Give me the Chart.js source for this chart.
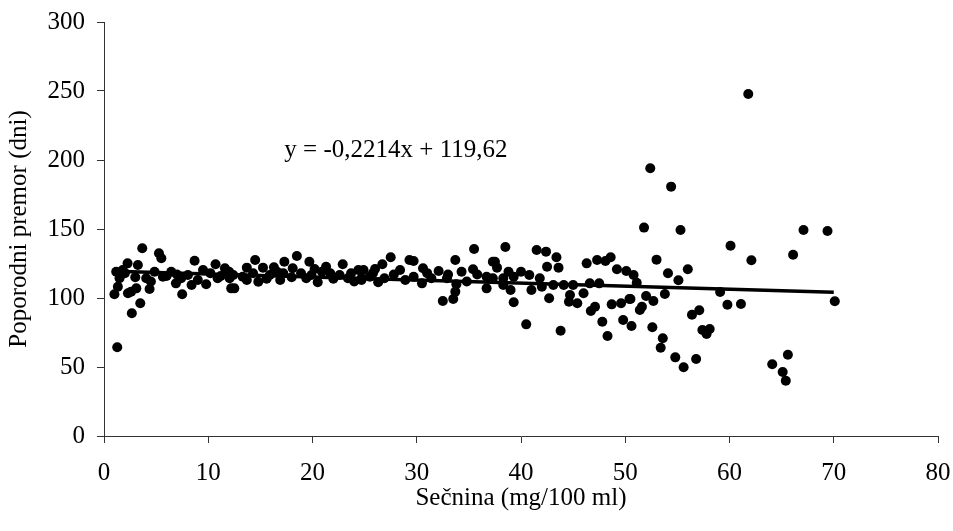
<!DOCTYPE html>
<html>
<head>
<meta charset="utf-8">
<title>Sečnina in poporodni premor</title>
<script src="https://cdn.jsdelivr.net/npm/chart.js@4/dist/chart.umd.min.js"></script>
<style>
  html, body { margin: 0; padding: 0; background: #fff; }
  #chartBox { width: 953px; height: 531px; }
</style>
</head>
<body>
<div id="chartBox"><canvas id="scatterChart" width="953" height="531"></canvas></div>
<script>
// urea (x) and calving interval (y)
const xValues = [
  1.0, 1.17, 1.27, 1.33, 1.49, 1.8, 2.0, 2.26, 2.3, 2.6, 2.67, 3.0, 3.1, 3.25, 3.48, 3.67, 4.05, 4.37, 4.5, 4.85,
  5.27, 5.5, 5.65, 6.0, 6.45, 6.9, 7.0, 7.4, 7.5, 8.05, 8.4, 8.69, 9.0, 9.5, 9.8, 10.2, 10.7, 10.9, 11.2, 11.6,
  12.0, 12.2,
  12.05, 12.4, 12.5, 13.3, 13.7, 13.7, 14.3, 14.5, 14.8, 15.25, 15.6, 15.9, 16.3, 16.6, 16.9, 17.2, 17.3, 18.0, 18.1, 18.5,
  18.9, 19.4, 19.7, 19.9, 20.2, 20.5, 20.9, 21.3, 21.7, 22.0, 22.6, 22.9, 23.4, 23.7, 24.0, 24.4, 24.7,
  24.7, 24.9, 25.5, 25.8, 26.0, 26.3, 26.7, 26.9, 27.5, 27.8, 28.4, 28.9, 29.3, 29.7, 29.7, 30.5, 30.6, 31.0, 31.4, 32.1,
  32.5, 32.9, 33.0, 33.5, 33.7, 33.7, 33.8, 34.3, 34.8, 35.4, 35.5, 35.8, 36.7, 36.7, 37.3,
  37.3, 37.5, 37.7, 38.3, 38.3, 38.5, 38.8, 39.0, 39.3, 39.3, 40.0, 40.5, 40.8, 41.0, 41.5, 41.8, 42.0, 42.4, 42.5, 42.7,
  43.1, 43.4, 43.6, 43.8, 44.1, 44.6, 44.7, 45.0, 45.4, 46.0, 46.3, 46.6, 46.7, 47.1, 47.3, 47.5, 47.8, 48.1, 48.3, 48.6,
  48.7, 49.2, 49.6, 49.8, 50.1, 50.4,
  50.5, 50.6, 50.8, 51.1, 51.4, 51.6, 51.8, 52.0, 52.4, 52.6, 52.7, 53.0, 53.4, 53.6, 53.8, 54.1, 54.4, 54.8, 55.1, 55.3,
  55.6, 56.0, 56.4, 56.8, 57.1, 57.4, 57.8, 58.1, 59.1, 59.8, 60.1, 61.1, 61.8, 62.1, 64.1, 65.1, 65.4, 65.6, 66.1, 67.1,
  69.4, 70.1
];
const yValues = [
  102.7, 119, 64.3, 108.2, 114.3, 120.3, 118, 125.1, 103.4, 104.6, 88.9, 115, 107, 123.9, 96.2, 136, 114.3, 106.5, 112, 119,
  132.4, 128.8, 115.4, 116, 119, 110.6, 117, 114.3, 102.7, 116.7, 109.4, 127, 113, 120.3, 109.9, 118, 124.4, 114.3, 116, 121.5,
  119, 107,
  114.3, 116.7, 107, 115.4, 122, 113, 117.9, 127.5, 111.8, 122, 114, 116.7, 122.2, 119, 113, 117.9, 126.3, 115, 121.5, 130.4,
  117.9, 114.3, 126.3, 116.7, 121, 111.4, 119, 122.7, 117.9, 114, 116.7, 124.4, 114.3, 117.9, 112, 120.3, 114.3,
  113, 120.3, 115.4, 118, 121, 111.4, 124.4, 114.3, 129.5, 117, 120.3, 113, 127.5, 126.8, 115.4, 110.6, 121.5, 118, 114.3, 119.6,
  97.8, 114.3, 117, 99.3, 104.6, 127.5, 109.9, 119, 112, 120.8, 135.5, 117, 115.4, 107, 126.3,
  114.3, 126.3, 122, 114.3, 109.4, 137, 119, 105.8, 115.4, 96.9, 119, 80.9, 116.7, 105.8, 134.8, 114.3, 108.2, 133.6, 122.7, 99.8,
  109.4, 129.5, 122, 76.3, 109.4, 97.3, 102.2, 109.4, 96.2, 103.4, 125.1, 110.6, 90.6, 93.7, 127.5, 110.6, 82.8, 126.8, 72.5, 129.5,
  95.4, 120.8, 96.2, 84.1, 119.6, 99.3,
  99.3, 79.7, 116.7, 111.1, 91.3, 93.7, 151, 101.4, 194, 78.8, 97.8, 127.8, 64, 70.8, 102.9, 117.9, 180.7, 57, 112.8, 149.3,
  49.8, 120.8, 87.9, 55.8, 91.1, 76.8, 73.9, 77.5, 104.3, 95.1, 137.9, 95.7, 247.8, 127.3, 52, 46.4, 40.1, 58.9, 131.4, 149.3,
  148.6, 97.6
];

// linear trend line end points
const trendX = [1, 70];
const trendY = [119.4, 104.1];

const xTicks = [0, 10, 20, 30, 40, 50, 60, 70, 80];
const yTicks = [0, 50, 100, 150, 200, 250, 300];

const xTitle = 'Sečnina (mg/100 ml)';
const yTitle = 'Poporodni premor (dni)';
const equationText = 'y = -0,2214x + 119,62';
const equationAt = [28, 207];

const serif = '"Liberation Serif", "Times New Roman", serif';
Chart.defaults.font.family = serif;
Chart.defaults.font.size = 25;
Chart.defaults.color = '#000';

const points = xValues.map((x, i) => ({ x: x, y: yValues[i] }));
const trend = trendX.map((x, i) => ({ x: x, y: trendY[i] }));

const equationLabel = {
  id: 'equationLabel',
  afterDatasetsDraw(chart) {
    const ctx = chart.ctx;
    const px = chart.scales.x.getPixelForValue(equationAt[0]);
    const py = chart.scales.y.getPixelForValue(equationAt[1]);
    ctx.save();
    ctx.font = '25px ' + serif;
    ctx.fillStyle = '#000';
    ctx.textAlign = 'center';
    ctx.textBaseline = 'middle';
    ctx.fillText(equationText, px, py);
    ctx.restore();
  }
};

const axisColor = '#333';

new Chart(document.getElementById('scatterChart'), {
  type: 'scatter',
  data: {
    datasets: [{
      label: 'trend',
      type: 'line',
      data: trend,
      borderColor: '#000',
      borderWidth: 3.5,
      pointRadius: 0,
      fill: false,
      order: 0
    }, {
      label: yTitle,
      data: points,
      backgroundColor: '#000',
      borderColor: '#000',
      borderWidth: 0,
      pointRadius: 5,
      order: 1
    }]
  },
  options: {
    responsive: false,
    animation: false,
    layout: { padding: { top: 0, right: 0, left: 0, bottom: 18 } },
    plugins: {
      legend: { display: false },
      tooltip: { enabled: false }
    },
    scales: {
      x: {
        type: 'linear',
        min: 0,
        max: 80,
        afterBuildTicks: s => { s.ticks = xTicks.map(v => ({ value: v })); },
        afterFit: s => { s.height = 77; s.paddingLeft = 0; s.paddingRight = 15; },
        ticks: { padding: 15 },
        grid: { drawOnChartArea: false, tickLength: 7, color: axisColor },
        border: { color: axisColor },
        title: { display: true, text: xTitle, padding: 0 }
      },
      y: {
        min: 0,
        max: 300,
        afterBuildTicks: s => { s.ticks = yTicks.map(v => ({ value: v })); },
        afterFit: s => { s.width = 104; s.paddingTop = 22; s.paddingBottom = 0; },
        ticks: { padding: 12 },
        grid: { drawOnChartArea: false, tickLength: 7, color: axisColor },
        border: { color: axisColor },
        title: { display: true, text: yTitle, padding: { bottom: 4 } }
      }
    }
  },
  plugins: [equationLabel]
});
</script>
</body>
</html>
